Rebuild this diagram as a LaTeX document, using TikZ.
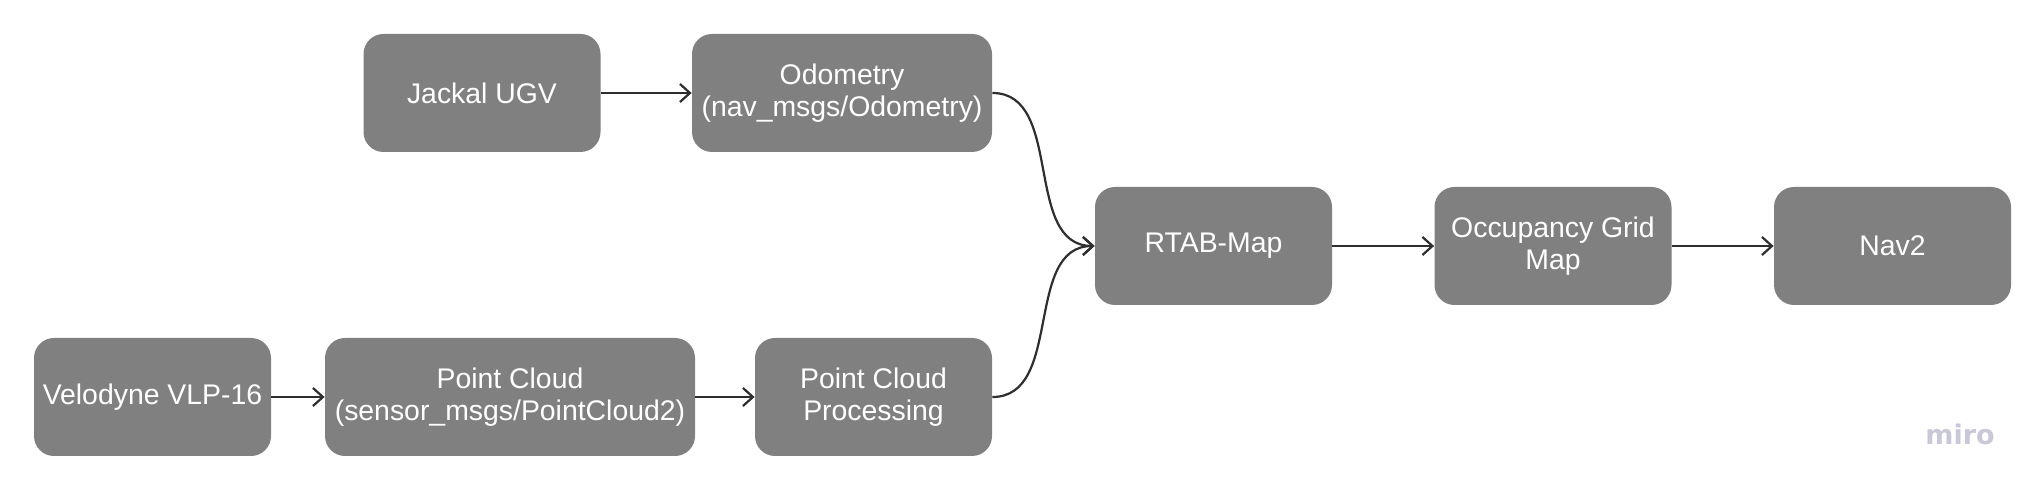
\documentclass[tikz,border=0pt]{standalone}
\usepackage{fontspec}
\setmainfont{Liberation Sans}
\newfontfamily\mirofont{DejaVu Sans}
\usetikzlibrary{arrows.meta}
\definecolor{boxgray}{HTML}{808080}
\definecolor{linegray}{HTML}{2E2E2E}
\definecolor{mirogray}{HTML}{C8C8D8}
\tikzset{
  block/.style={fill=boxgray, draw=none, rounded corners=10pt, text=white,
    minimum height=59pt, inner sep=2pt, align=center,
    font=\fontsize{14.2}{16.3}\selectfont},
  conn/.style={draw=linegray, line width=1.1pt, -{Straight Barb[length=5pt,width=9pt]}}
}
\begin{document}
\begin{tikzpicture}[x=0.5pt,y=-0.5pt]
\useasboundingbox[fill=white] (0,0) rectangle (2039,490);
\node[block, minimum width=118.5pt] (jackal) at (482,93) {Jackal UGV};
\node[block, minimum width=150pt] (odom) at (842,93) {Odometry\\(nav\_msgs/Odometry)};
\node[block, minimum width=118.5pt] (velo) at (152.5,397) {Velodyne VLP-16};
\node[block, minimum width=185pt] (pc) at (510,397) {Point Cloud\\(sensor\_msgs/PointCloud2)};
\node[block, minimum width=118.5pt] (pcp) at (873.5,397) {Point Cloud\\Processing};
\node[block, minimum width=118.5pt] (rtab) at (1213.5,246) {RTAB-Map};
\node[block, minimum width=118.5pt] (occ) at (1553,246) {Occupancy Grid\\Map};
\node[block, minimum width=118.5pt] (nav) at (1892.5,246) {Nav2};
\node[text=mirogray, font=\mirofont\bfseries\fontsize{13.5}{16}\selectfont, inner sep=0pt] (miro) at (1960,434) {miro};
\draw[conn] (jackal) -- (odom);
\draw[conn] (velo) -- (pc);
\draw[conn] (pc) -- (pcp);
\draw[conn] (rtab) -- (occ);
\draw[conn] (occ) -- (nav);
\draw[conn] (odom.east) to[out=0,in=180] (rtab.west);
\draw[conn] (pcp.east) to[out=0,in=180] (rtab.west);
\end{tikzpicture}
\end{document}
